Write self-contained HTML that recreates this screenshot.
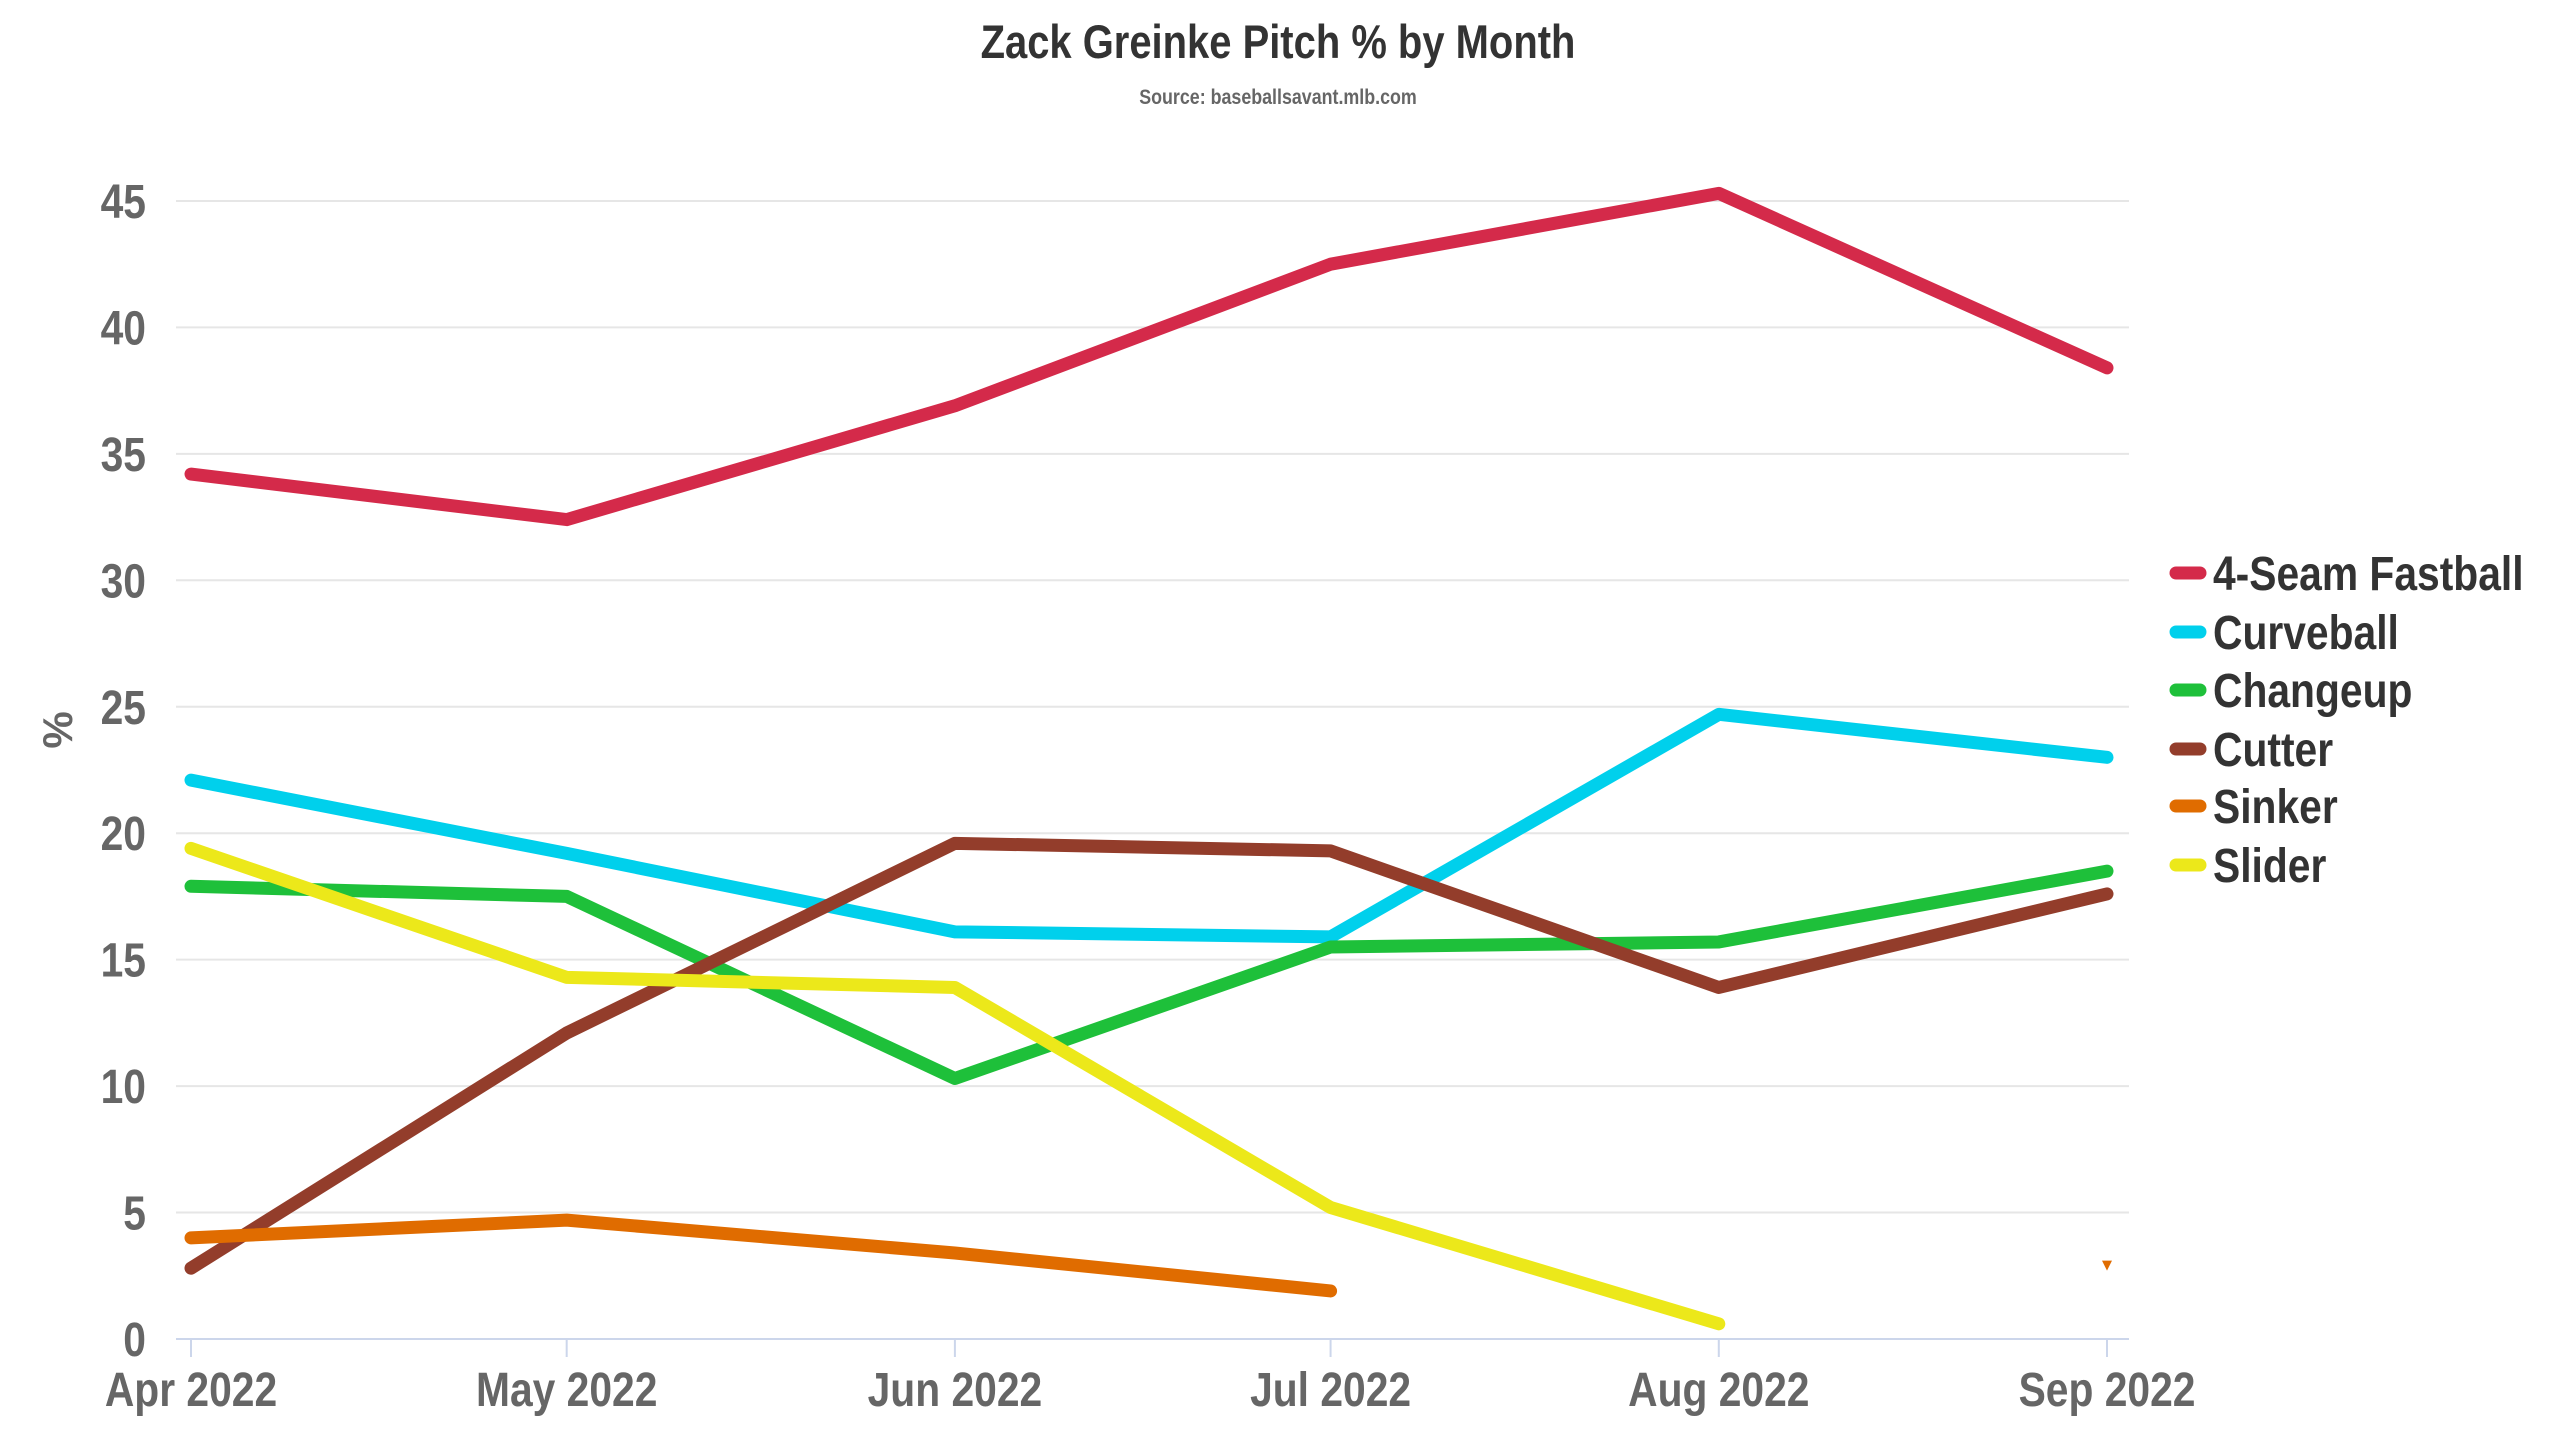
<!DOCTYPE html>
<html><head><meta charset="utf-8"><style>
html,body{margin:0;padding:0;background:#fff;}
svg{display:block;}
text{font-family:"Liberation Sans Narrow","Liberation Sans",sans-serif;font-weight:bold;}
</style></head><body>
<svg id="chart" width="2560" height="1440" viewBox="0 0 2560 1440">
<text transform="translate(1278,58) scale(0.85,1)" text-anchor="middle" font-size="47" fill="#333">Zack Greinke Pitch % by Month</text>
<text transform="translate(1278,104) scale(0.85,1)" text-anchor="middle" font-size="21" fill="#666">Source: baseballsavant.mlb.com</text>
<text transform="translate(72,730) rotate(-90)" text-anchor="middle" font-size="42" fill="#666">%</text>
<g id="grid"></g><g id="series"></g><g id="legend"></g>
</svg>
<script>
const months = ["Apr 2022","May 2022","Jun 2022","Jul 2022","Aug 2022","Sep 2022"];
const monthDays = [0,30,61,91,122,153];
const yTicks = [0,5,10,15,20,25,30,35,40,45];
const seriesNames = ["4-Seam Fastball","Curveball","Changeup","Cutter","Sinker","Slider"];
const fastball = [34.2,32.4,36.9,42.5,45.3,38.4];
const curveball = [22.1,19.2,16.1,15.9,24.7,23.0];
const changeup = [17.9,17.5,10.3,15.5,15.7,18.5];
const cutter = [2.8,12.1,19.6,19.3,13.9,17.6];
const sinker = [4.0,4.7,3.4,1.9,null,2.9];
const slider = [19.4,14.3,13.9,5.2,0.6,null];
const colors = ["#d42a4a","#00d0ec","#1ec03a","#933d2b","#e06c00","#ece81a"];
const allSeries = [fastball,curveball,changeup,cutter,sinker,slider];
const NS="http://www.w3.org/2000/svg";
const left=176,right=2129,x0=191,x1=2107,yBase=1339,pxPerUnit=25.29;
const dMax=monthDays[monthDays.length-1];
const xS=i=>x0+monthDays[i]/dMax*(x1-x0);
const yS=v=>yBase-v*pxPerUnit;
function mk(tag,attrs,parent){const e=document.createElementNS(NS,tag);for(const k in attrs)e.setAttribute(k,attrs[k]);parent.appendChild(e);return e;}
const grid=document.getElementById('grid');
yTicks.forEach(t=>{
  if(t>0){const l=mk('line',{x1:left,x2:right,y1:yS(t),y2:yS(t),stroke:'#e6e6e6','stroke-width':2},grid);
  
  }
  const tx=mk('text',{transform:`translate(146,${yS(t)+17}) scale(0.85,1)`,'text-anchor':'end','font-size':48,fill:'#666'},grid);
  tx.textContent=t;
  
  
});
const ax=mk('line',{x1:left,x2:right,y1:yBase,y2:yBase,stroke:'#ccd6eb','stroke-width':2},grid);


months.forEach((m,i)=>{
  const tk=mk('line',{x1:xS(i),x2:xS(i),y1:yBase,y2:yBase+18,stroke:'#ccd6eb','stroke-width':2},grid);
  
  
  const tx=mk('text',{transform:`translate(${xS(i)},1406) scale(0.85,1)`,'text-anchor':'middle','font-size':48,fill:'#666'},grid);
  tx.textContent=m;
  
  
});
const sg=document.getElementById('series');
allSeries.forEach((vals,si)=>{
  let segs=[],cur=[];
  vals.forEach((v,i)=>{if(v==null){if(cur.length)segs.push(cur);cur=[];}else cur.push([xS(i),yS(v)]);});
  if(cur.length)segs.push(cur);
  segs.forEach(seg=>{
    if(seg.length>1){
      const p=mk('polyline',{points:seg.map(p=>p.join(',')).join(' '),fill:'none',stroke:colors[si],'stroke-width':13,'stroke-linecap':'round','stroke-linejoin':'round'},sg);
      
      
    } else {
      const [x,y]=seg[0];
      const m=mk('polygon',{points:`${x-5},${y-5} ${x+5},${y-5} ${x},${y+5}`,fill:colors[si]},sg);
      
      
    }
  });
});
const lg=document.getElementById('legend');
const legendY=[573,632,690,749,806,865];
seriesNames.forEach((n,i)=>{
  const g=mk('g',{},lg);
  
  
  mk('line',{x1:2176,x2:2200,y1:legendY[i],y2:legendY[i],stroke:colors[i],'stroke-width':13,'stroke-linecap':'round'},g);
  const t=mk('text',{transform:`translate(2213,${legendY[i]+17}) scale(0.85,1)`,'font-size':48,fill:'#333'},g);
  t.textContent=n;
});
</script>
</body></html>
